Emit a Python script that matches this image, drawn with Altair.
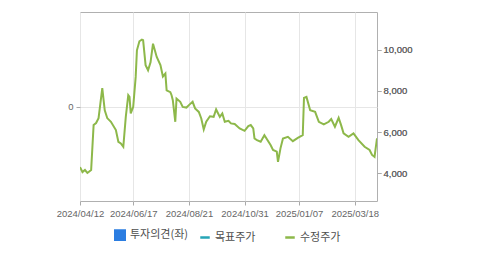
import altair as alt
import pandas as pd

# trading-day index and adjusted price (수정주가)
days = [0, 2, 4, 6, 7, 9, 11, 13, 15, 18, 20, 22, 25, 29, 31, 33, 35, 37, 39, 40,
        41, 43, 45, 46, 48, 50, 51, 53, 55, 57, 59, 62, 65, 67, 69, 70, 73, 74, 75, 77,
        78, 81, 83, 86, 88, 91, 93, 96, 98, 100, 102, 105, 108, 110, 113, 115, 117, 120, 122, 125,
        129, 133, 136, 138, 140, 141, 143, 146, 149, 154, 156, 159, 160, 162, 164, 168, 172, 176, 180, 181,
        183, 186, 190, 193, 197, 201, 203, 206, 209, 211, 213, 217, 221, 225, 230, 234, 236, 238, 240]
prices = [4300, 4060, 4160, 4020, 4060, 4160, 6340, 6440, 6680, 8130, 7060, 6680, 6500, 6100, 5530, 5450, 5290, 6740, 7790, 7710,
          6910, 7230, 8680, 9970, 10410, 10490, 10460, 9250, 9000, 9390, 10290, 9650, 9250, 8700, 8840, 8030, 7940, 7790, 7550, 6500,
          7630, 7470, 7220, 7190, 7310, 7470, 7150, 6980, 6660, 6130, 6500, 6770, 6740, 7100, 6740, 6900, 6500, 6550, 6420, 6390,
          6180, 6060, 6290, 6340, 6180, 5690, 5610, 5530, 5850, 5370, 5130, 5050, 4560, 5210, 5690, 5770, 5560, 5720, 5850, 7660,
          7710, 7060, 6980, 6500, 6370, 6500, 6630, 6260, 6690, 6340, 5940, 5770, 5940, 5610, 5290, 5130, 4890, 4800, 5700]

tick_days = [0, 43, 88, 133, 177, 222]
tick_labels = ["2024/04/12", "2024/06/17", "2024/08/21", "2024/10/31", "2025/01/07", "2025/03/18"]

legend_names = ["투자의견(좌)", "목표주가", "수정주가"]
legend_colors = ["#2b7de1", "#26a5b6", "#8db84a"]
legend_shapes = ["square", "stroke", "stroke"]

opinion_ticks = [0]

df = pd.DataFrame({"day": days, "price": prices})
leg_df = pd.DataFrame({"series": legend_names, "day": [-100] * 3, "price": [0] * 3})
op_df = pd.DataFrame({"day": [0], "op": opinion_ticks})

label_map = "{" + ",".join(f"'{d}':'{l}'" for d, l in zip(tick_days, tick_labels)) + "}"

xscale = alt.Scale(domain=[0, 240], nice=False, zero=False)
xaxis = alt.Axis(values=tick_days, labelExpr=f"{label_map}[''+datum.value]", title=None,
                 grid=True, gridColor="#e6e6e6", domain=False, tickColor="#aaaaaa", tickSize=4,
                 labelColor="#666666", labelFontSize=9.5, labelFont="Liberation Sans",
                 labelPadding=3, labelOverlap=False, labelFlush=False)
X = alt.X("day:Q", scale=xscale, axis=xaxis)
yscale = alt.Scale(domain=[2655, 11830], nice=False, zero=False)
yaxis = alt.Axis(orient="right", values=[4000, 6000, 8000, 10000], format=",d", title=None,
                 grid=False, domain=False, tickColor="#aaaaaa", tickSize=4,
                 labelColor="#666666", labelFontSize=9.5, labelFont="Liberation Sans",
                 labelPadding=2)

leg = alt.Legend(title=None, orient="none", legendX=34, legendY=217,
                 direction="horizontal", columns=3, gridAlign="all",
                 columnPadding=6, symbolOpacity=1, symbolSize=90,
                 symbolStrokeWidth=2.5, labelFontSize=11,
                 labelFont="Noto Sans CJK KR", labelColor="#4d4d4d",
                 labelOffset=4, padding=0)
cscale = alt.Scale(domain=legend_names, range=legend_colors)

opinion = alt.Chart(op_df).mark_point(opacity=0).encode(
    x=X,
    y=alt.Y("op:Q", scale=alt.Scale(domain=[-1, 1], nice=False),
            axis=alt.Axis(orient="left", values=opinion_ticks, title=None, grid=True,
                          gridColor="#e6e6e6", domain=False, tickColor="#aaaaaa", tickSize=4,
                          labelColor="#666666", labelFontSize=9.5, labelFont="Liberation Sans",
                          labelPadding=3)),
)

line = alt.Chart(df).mark_line(color="#8db84a", strokeWidth=2, clip=True).encode(
    x=X,
    y=alt.Y("price:Q", scale=yscale, axis=yaxis),
)

legend_layer = alt.Chart(leg_df).mark_point(filled=False, opacity=0, clip=True).encode(
    x=X,
    y=alt.Y("price:Q", scale=yscale, axis=yaxis),
    color=alt.Color("series:N", scale=cscale, legend=leg),
    fill=alt.Fill("series:N", scale=cscale, legend=leg),
    shape=alt.Shape("series:N", scale=alt.Scale(domain=legend_names, range=legend_shapes), legend=leg),
)

chart = alt.layer(opinion, line, legend_layer).resolve_scale(y="independent").properties(
    width=297, height=189,
    autosize=alt.AutoSizeParams(type="none"),
    padding={"left": 80, "top": 12, "right": 102, "bottom": 54},
    background="white",
).configure_view(stroke="#b0b0b0", strokeWidth=1)

chart.save("out.html", embed_options={"renderer": "svg", "actions": False})
